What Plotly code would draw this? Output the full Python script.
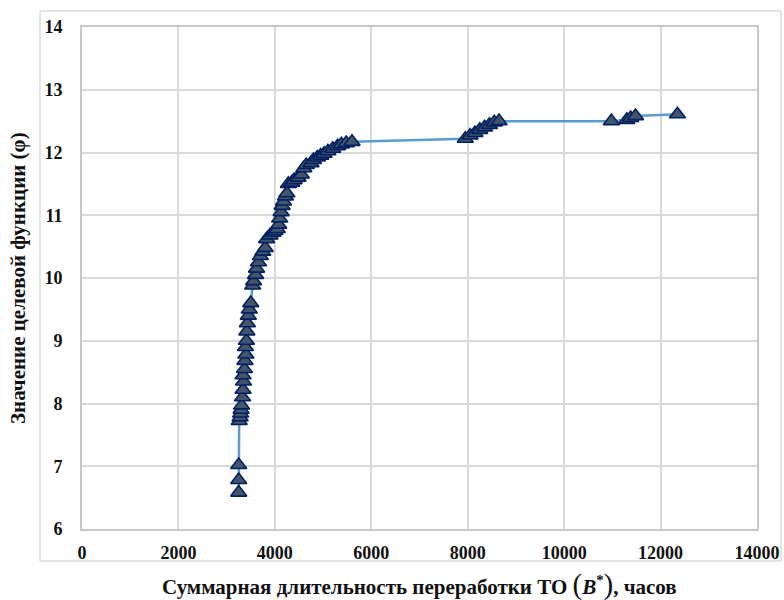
import plotly.graph_objects as go

# Data
x_hours = [3250, 3250, 3250,
           3260, 3280, 3290, 3300, 3310, 3330, 3340, 3350, 3340, 3370, 3380, 3400,
           3390, 3410, 3420, 3430, 3450, 3470, 3500,
           3540, 3560, 3600, 3620, 3660, 3700, 3750, 3800, 3830, 3900, 3960, 4000,
           4050, 4080, 4100, 4130, 4150, 4180, 4220, 4250, 4280, 4350, 4400, 4480,
           4550, 4600, 4650, 4750, 4800, 4880, 4950, 5020, 5100, 5200, 5300, 5380,
           5480, 5600,
           7950, 8050, 8150, 8250, 8350, 8450, 8550, 8650,
           10980, 11300, 11380, 11480, 12350]
phi = [6.58, 6.78, 7.02,
       7.72, 7.78, 7.84, 7.90, 7.97, 8.10, 8.22, 8.35, 8.45, 8.55, 8.68, 8.78,
       8.90, 9.00, 9.15, 9.28, 9.40, 9.50, 9.60,
       9.88, 9.95, 10.05, 10.15, 10.25, 10.35, 10.42, 10.48, 10.62, 10.68, 10.72, 10.75,
       10.78, 10.85, 10.95, 11.05, 11.15, 11.22, 11.30, 11.35, 11.50, 11.52, 11.56, 11.60,
       11.65, 11.75, 11.80, 11.83, 11.88, 11.92, 11.95, 11.98, 12.02, 12.06, 12.10, 12.13,
       12.15, 12.17,
       12.22, 12.27, 12.31, 12.36, 12.40, 12.44, 12.48, 12.50,
       12.50, 12.52, 12.55, 12.58, 12.61]

x_ticks = [0, 2000, 4000, 6000, 8000, 10000, 12000, 14000]
y_ticks = [6, 7, 8, 9, 10, 11, 12, 13, 14]

x_title = ('Суммарная длительность переработки ТО '
           '<span style="font-size:29px;font-weight:normal">(</span>'
           '<i>B</i><sup>*</sup>'
           '<span style="font-size:29px;font-weight:normal">)</span>, часов')
y_title = 'Значение целевой функции (φ)'

SERIF = "Liberation Serif, Times New Roman, serif"

fig = go.Figure()
fig.add_trace(go.Scatter(
    x=x_hours, y=phi, mode="lines+markers",
    line=dict(color="#5b9bd5", width=2.5),
    marker=dict(symbol="triangle-up", size=14, color="#44546a",
                line=dict(color="#002060", width=1.6)),
    showlegend=False,
))

axis_common = dict(
    automargin=False,
    showgrid=True, gridcolor="#d9d9d9", gridwidth=2,
    showline=True, linecolor="#c8c8c8", linewidth=2, mirror=True,
    zeroline=False,
    tickfont=dict(family=SERIF, size=18, color="#111111", weight="bold"),
    ticks="outside", tickcolor="rgba(0,0,0,0)",
)

fig.update_xaxes(range=[0, 14000], tickvals=x_ticks,
                 ticktext=[str(v) for v in x_ticks], ticklen=6, **axis_common)
fig.update_yaxes(range=[6, 14], tickvals=y_ticks,
                 ticktext=[str(v) for v in y_ticks], ticklen=14, **axis_common)

fig.update_layout(
    width=784, height=600,
    margin=dict(l=82, r=27, t=27, b=71, autoexpand=False),
    paper_bgcolor="white", plot_bgcolor="white",
    shapes=[dict(type="rect", xref="paper", yref="paper",
                 x0=-0.0622, x1=1.0356, y0=-0.0637, y1=1.0319,
                 line=dict(color="#c8c8c8", width=1), layer="below")],
    annotations=[
        dict(text=x_title, xref="paper", yref="paper", x=0.5, y=-0.1096,
             xanchor="center", yanchor="middle", showarrow=False,
             font=dict(family=SERIF, size=21, color="#111111", weight="bold")),
        dict(text=y_title, xref="paper", yref="paper", x=-0.0948, y=0.5,
             xanchor="center", yanchor="middle", showarrow=False, textangle=-90,
             font=dict(family=SERIF, size=21, color="#111111", weight="bold")),
    ],
)

fig.write_html("out.html", config={"displayModeBar": False},
               post_script="document.body.style.margin='0';document.body.style.overflow='hidden';")
